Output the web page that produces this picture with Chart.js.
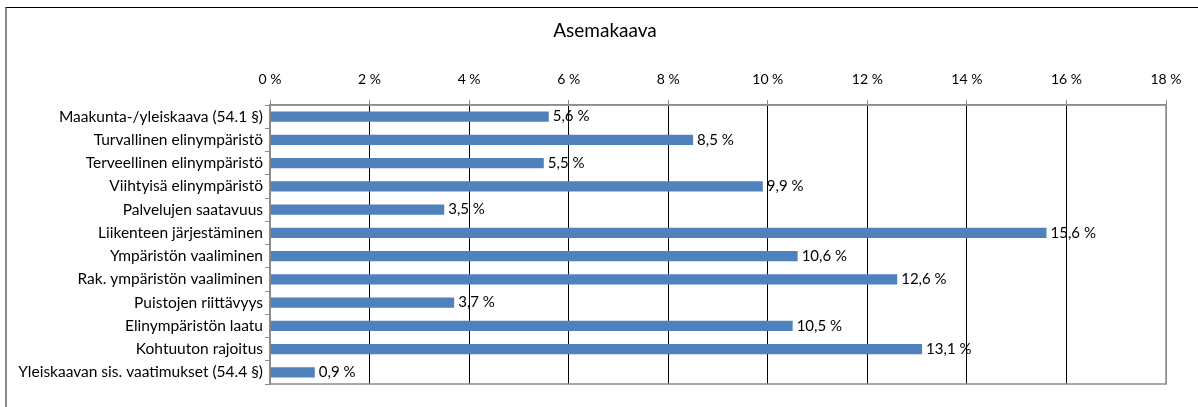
<!DOCTYPE html>
<html>
<head>
<meta charset="utf-8">
<script src="https://cdn.jsdelivr.net/npm/chart.js@4.4.0/dist/chart.umd.min.js"></script>
<style>
  html, body { margin: 0; padding: 0; background: #fff; }
  #wrap { position: relative; width: 1198px; height: 407px; overflow: hidden; }
  #frame { position: absolute; left: 5px; top: 7px; width: 1300px; height: 500px;
           border-top: 1px solid #000; border-left: 2px solid #8c8c8c; box-sizing: border-box; }
  canvas { position: absolute; left: 0; top: 0; }
</style>
</head>
<body>
<div id="wrap">
  <div id="frame"></div>
  <canvas id="c" width="1198" height="407"></canvas>
</div>
<script>
const categories = [
  "Maakunta-/yleiskaava (54.1 §)",
  "Turvallinen elinympäristö",
  "Terveellinen elinympäristö",
  "Viihtyisä elinympäristö",
  "Palvelujen saatavuus",
  "Liikenteen järjestäminen",
  "Ympäristön vaaliminen",
  "Rak. ympäristön vaaliminen",
  "Puistojen riittävyys",
  "Elinympäristön laatu",
  "Kohtuuton rajoitus",
  "Yleiskaavan sis. vaatimukset (54.4 §)"
];
const values = [5.6, 8.5, 5.5, 9.9, 3.5, 15.6, 10.6, 12.6, 3.7, 10.5, 13.1, 0.9];
const tickValues = [0, 2, 4, 6, 8, 10, 12, 14, 16, 18];
const titleText = "Asemakaava";

const FONT = "Lato, 'Open Sans', sans-serif";

const fmt = v => v.toFixed(1).replace('.', ',') + ' %';

const labelPlugin = {
  id: 'barLabels',
  afterDatasetsDraw(chart) {
    const ctx = chart.ctx;
    const meta = chart.getDatasetMeta(0);
    ctx.save();
    ctx.font = "15px " + FONT;
    ctx.fillStyle = '#000';
    ctx.textAlign = 'left';
    ctx.textBaseline = 'middle';
    meta.data.forEach((bar, i) => {
      ctx.fillText(fmt(values[i]), bar.x + 4, bar.y);
    });
    ctx.restore();
  }
};

const borderPlugin = {
  id: 'plotBorder',
  afterDatasetsDraw(chart) {
    const a = chart.chartArea;
    const ctx = chart.ctx;
    ctx.save();
    ctx.strokeStyle = '#8c8c8c';
    ctx.lineWidth = 1.5;
    ctx.strokeRect(a.left, a.top, a.right - a.left, a.bottom - a.top);
    ctx.restore();
  }
};

const titlePlugin = {
  id: 'customTitle',
  afterDraw(chart) {
    const ctx = chart.ctx;
    ctx.save();
    ctx.font = "19px " + FONT;
    ctx.fillStyle = '#000';
    ctx.textAlign = 'center';
    ctx.textBaseline = 'middle';
    ctx.fillText(titleText, 605, 31);
    ctx.restore();
  }
};

new Chart(document.getElementById('c'), {
  type: 'bar',
  data: {
    labels: categories,
    datasets: [{
      data: values,
      backgroundColor: '#4F81BD',
      borderWidth: 0,
      barPercentage: 0.9,
      categoryPercentage: 0.48
    }]
  },
  options: {
    indexAxis: 'y',
    responsive: false,
    animation: false,
    devicePixelRatio: 1,
    layout: { padding: { left: 0, top: 0, right: 32, bottom: 23 } },
    plugins: {
      legend: { display: false },
      tooltip: { enabled: false },
      title: { display: false }
    },
    scales: {
      x: {
        position: 'top',
        min: 0,
        max: 18,
        afterBuildTicks(scale) { scale.ticks = tickValues.map(v => ({ value: v })); },
        afterFit(scale) { scale.height = 105; },
        ticks: {
          color: '#000',
          font: { family: FONT, size: 14 },
          padding: 12,
          callback: v => v + ' %'
        },
        grid: {
          color: ctx => (ctx.index === 0 || ctx.index === tickValues.length - 1) ? '#8c8c8c' : '#000',
          lineWidth: 1,
          tickColor: '#8c8c8c',
          tickLength: 5
        },
        border: { color: '#8c8c8c', width: 1.5 }
      },
      y: {
        afterFit(scale) { scale.width = 270; },
        ticks: {
          color: '#000',
          font: { family: FONT, size: 15.5 },
          padding: 2,
          autoSkip: false
        },
        grid: {
          offset: true,
          drawOnChartArea: false,
          tickColor: '#8c8c8c',
          tickLength: 5
        },
        border: { color: '#8c8c8c', width: 1.5 }
      }
    }
  },
  plugins: [labelPlugin, borderPlugin, titlePlugin]
});
</script>
</body>
</html>
